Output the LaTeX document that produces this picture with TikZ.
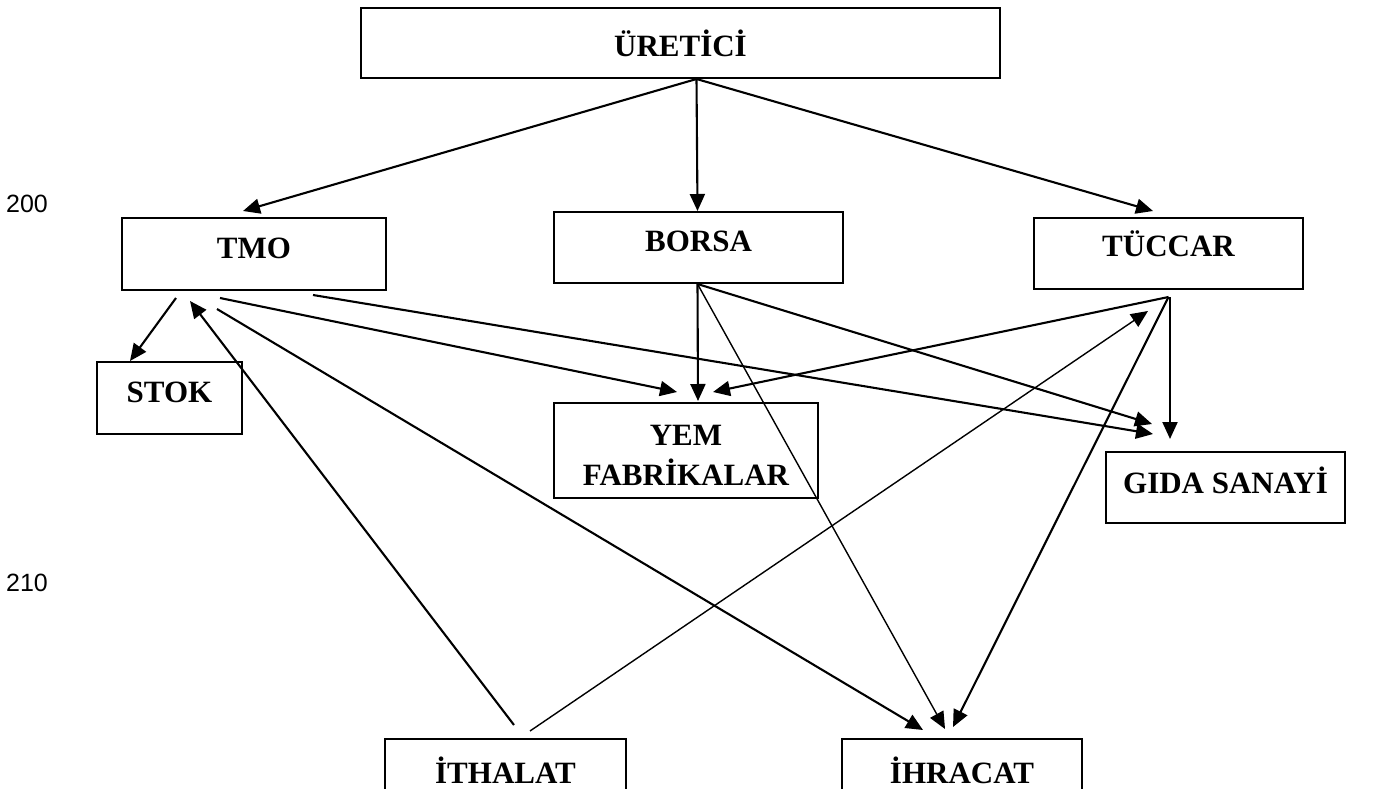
\documentclass[tikz,border=0pt]{standalone}
\usepackage{fontspec}
\setmainfont{Liberation Serif}
\newfontfamily\numfont{Liberation Sans}
\usetikzlibrary{arrows.meta}

\begin{document}
\begin{tikzpicture}[x=1pt,y=-1pt]

\tikzstyle{box}=[shape=rectangle, draw, line width=2pt, inner sep=0pt,
    align=center, text depth=12pt,
    font=\bfseries\fontsize{31}{40}\selectfont]
\tikzstyle{link}=[->, >={Triangle[length=17pt,width=15pt]}, line width=2.1pt]
\tikzstyle{thinlink}=[link, line width=1.4pt]

\clip (0,0) rectangle (1375,789);

  \node[box, minimum width=639, minimum height=70, text depth=0pt] (uretici) at (680.5,43) {ÜRETİCİ};

  \node[box, minimum width=264, minimum height=72] (tmo) at (254,254) {TMO};
  \node[box, minimum width=289, minimum height=71] (borsa) at (698.5,247.5) {BORSA};
  \node[box, minimum width=269, minimum height=71, text depth=20pt] (tuccar) at (1168.5,253.5) {TÜCCAR};

  \draw[link] ([xshift=16]uretici.south) -- ([xshift=-11,yshift=6]tmo.north);
  \draw[link] ([xshift=16]uretici.south) -- ([xshift=-1]borsa.north);
  \draw[link] ([xshift=16]uretici.south) -- ([xshift=-15.5,yshift=6]tuccar.north);

  \node[box, minimum width=145, minimum height=72] (stok) at (169.5,398) {STOK};
  \node[box, minimum width=264, minimum height=95, text depth=0pt, text height=70pt] (yemFabrikalar) at (686,450.5) {YEM\\FABRİKALAR};
  \node[box, minimum width=239, minimum height=71, text depth=15pt] (gidaSanayi) at (1225.5,487.5) {GIDA SANAYİ};

  \node[box, minimum width=241, minimum height=74] (ithalat) at (505.5,776) {İTHALAT};
  \node[box, minimum width=240, minimum height=74] (ihracat) at (962,776) {İHRACAT};

% TMO
  \draw[link] ([xshift=-78,yshift=-7]tmo.south) -- ([xshift=-39.5]stok.north);
  \draw[link] ([xshift=-34,yshift=-7]tmo.south) -- ([xshift=-9,yshift=10]yemFabrikalar.north);
  \draw[link] ([xshift=-37,yshift=-18]tmo.south) -- ([xshift=-39,yshift=8]ihracat.north);
  \draw[link] ([xshift=59,yshift=-4]tmo.south) -- ([xshift=-72.5,yshift=17]gidaSanayi.north);

% BORSA
  \draw[link] ([xshift=-1]borsa.south) -- ([xshift=12,yshift=1]yemFabrikalar.north);
  \draw[thinlink] ([xshift=-1]borsa.south) -- ([xshift=-17,yshift=9]ihracat.north);
  \draw[link] ([xshift=-1]borsa.south) -- ([xshift=-73.5,yshift=27]gidaSanayi.north);

% TUCCAR
  \draw[link] ([xshift=0,yshift=-7]tuccar.south) -- ([xshift=27,yshift=10]yemFabrikalar.north);
  \draw[link] ([xshift=1.5,yshift=-7]tuccar.south) -- ([xshift=-55.5,yshift=12]gidaSanayi.north);
  \draw[link] ([xshift=0,yshift=-7]tuccar.south) -- ([xshift=-9,yshift=11]ihracat.north);

% ITHALAT
  \draw[link] ([xshift=8.5,yshift=13]ithalat.north) -- ([xshift=-64,yshift=-10]tmo.south);
  \draw[thinlink] ([xshift=24.5,yshift=7]ithalat.north) -- ([xshift=-20.5,yshift=-21]tuccar.south);

% page numbers
  \node[font=\numfont\fontsize{25}{30}\selectfont] (NUM_200) at (27,204) {200};
  \node[font=\numfont\fontsize{25}{30}\selectfont] (NUM_210) at (27,583) {210};

\end{tikzpicture}
\end{document}
